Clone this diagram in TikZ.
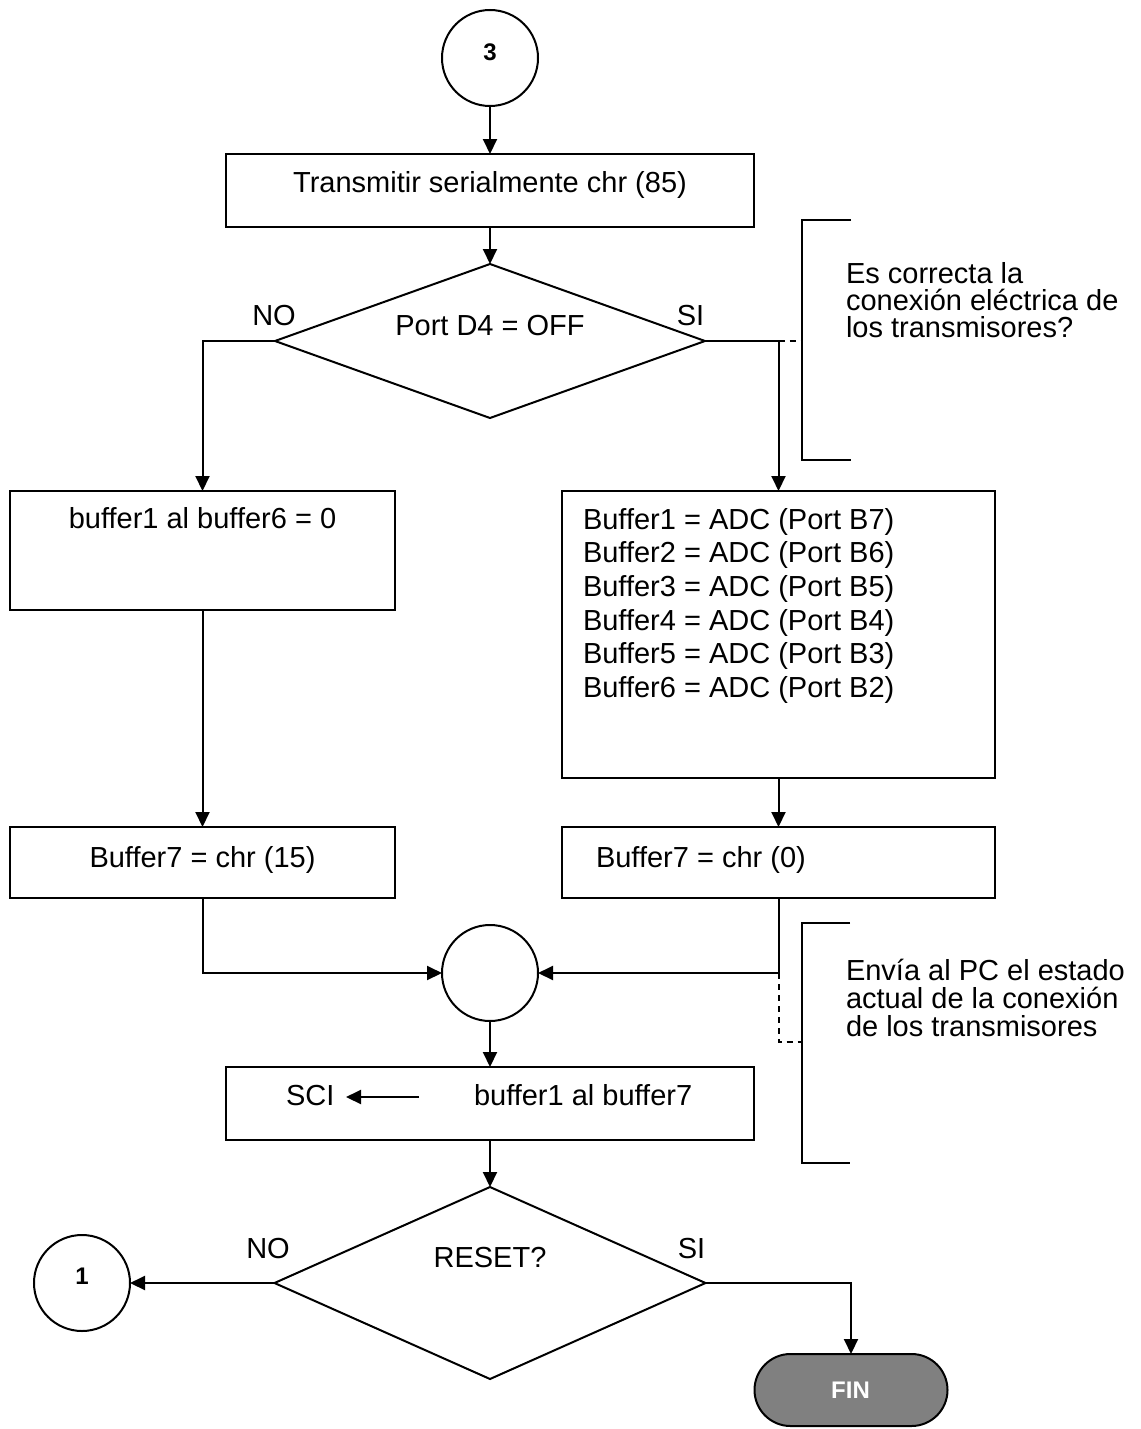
\documentclass[tikz,border=0pt]{standalone}
\usepackage{fontspec}
\setmainfont{Liberation Sans}
\usetikzlibrary{arrows.meta,shapes.geometric,shapes.misc}
\definecolor{fingray}{RGB}{128,128,128}
\begin{document}
\begin{tikzpicture}[x=1pt,y=-1pt,
  line width=2pt,
  every node/.style={inner sep=0pt,outer sep=0pt},
  txt/.style={font=\fontsize{29}{34}\selectfont},
  numtxt/.style={font=\fontsize{24}{28}\selectfont\bfseries},
  procbox/.style={draw,rectangle,line width=2pt},
  conn/.style={draw,circle,minimum size=96pt,line width=2pt},
  decision/.style={draw,diamond,line width=2pt},
  arr/.style={-{Triangle[length=15pt,width=14pt]}},
  dashline/.style={dash pattern=on 6pt off 5pt},
]
% page
\path[fill=white] (0,0) rectangle (1140,1429);
\useasboundingbox (0,0) rectangle (1140,1429);

% shapes
\node[conn] (c3) at (490,58) {};
\node[procbox,minimum width=528pt,minimum height=73pt] (box1) at (490,190.5) {};
\node[decision,minimum width=430pt,minimum height=154pt] (d1) at (490,341) {};
\node[procbox,minimum width=385pt,minimum height=119pt] (boxA) at (202.5,550.5) {};
\node[procbox,minimum width=433pt,minimum height=287pt] (boxB) at (778.5,634.5) {};
\node[procbox,minimum width=385pt,minimum height=71pt] (b7L) at (202.5,862.5) {};
\node[procbox,minimum width=433pt,minimum height=71pt] (b7R) at (778.5,862.5) {};
\node[conn] (merge) at (490,973) {};
\node[procbox,minimum width=528pt,minimum height=73pt] (sci) at (490,1103.5) {};
\node[decision,minimum width=431pt,minimum height=192pt] (d2) at (490,1283) {};
\node[conn] (c1) at (82,1283) {};
\node[draw,rounded rectangle,fill=fingray,minimum width=193pt,minimum height=72pt,line width=2pt] (fin) at (851,1390) {};

% texts
\node[numtxt,anchor=base] (t3) at (490,60) {3};
\node[txt,anchor=base] (t1) at (490,192) {Transmitir serialmente chr (85)};
\node[txt,anchor=base] (td1) at (490,335.5) {Port D4 = OFF};
\node[txt,anchor=base] (no1) at (274,325) {NO};
\node[txt,anchor=base] (si1) at (690.5,325) {SI};
\node[txt,anchor=base] (tA) at (202.5,528) {buffer1 al buffer6 = 0};
\foreach \t [count=\i] in {Buffer1 = ADC (Port B7),Buffer2 = ADC (Port B6),Buffer3 = ADC (Port B5),Buffer4 = ADC (Port B4),Buffer5 = ADC (Port B3),Buffer6 = ADC (Port B2)}
  \node[txt,anchor=base west] (tb\i) at (583,{529+33.7*(\i-1)}) {\t};
\node[txt,anchor=base] (t7L) at (202.5,867) {Buffer7 = chr (15)};
\node[txt,anchor=base west] (t7R) at (596,867) {Buffer7 = chr (0)};
\node[txt,anchor=base west] (tsci) at (286,1105) {SCI};
\node[txt,anchor=base west] (tbuf) at (474,1105) {buffer1 al buffer7};
\coordinate (sciA) at (419,1097);
\coordinate (sciB) at (346,1097);
\draw[arr] (sciA) -- (sciB);
\node[txt,anchor=base] (td2) at (490,1267) {RESET?};
\node[txt,anchor=base] (no2) at (268,1258) {NO};
\node[txt,anchor=base] (si2) at (691.5,1258) {SI};
\node[numtxt,anchor=base] (t1c) at (82,1284) {1};
\node[numtxt,anchor=base,text=white] (tfin) at (850.5,1398) {FIN};

% notes
\foreach \t [count=\i] in {Es correcta la,conexión eléctrica de,los transmisores?}
  \node[txt,anchor=base west] (na\i) at (846,{283+27.4*(\i-1)}) {\t};
\foreach \t [count=\i] in {Envía al PC el estado,actual de la conexión,de los transmisores}
  \node[txt,anchor=base west] (nb\i) at (846,{980+28.4*(\i-1)}) {\t};

% brackets
\coordinate (ba1) at (851,220);
\coordinate (ba2) at (802,220);
\coordinate (ba3) at (802,460);
\coordinate (ba4) at (851,460);
\draw (ba1) -- (ba2) -- (ba3) -- (ba4);
\coordinate (bb1) at (850,923);
\coordinate (bb2) at (802,923);
\coordinate (bb3) at (802,1163);
\coordinate (bb4) at (850,1163);
\draw (bb1) -- (bb2) -- (bb3) -- (bb4);

% flow connectors
\draw[arr] (c3) -- (box1);
\draw[arr] (box1) -- (d1);
\draw[arr] (d1.west) -| (boxA.north);
\draw[arr] (d1.east) -| (boxB.north);
\draw[arr] (boxA) -- (b7L);
\draw[arr] (boxB) -- (b7R);
\draw[arr] (b7L.south) |- (merge.west);
\draw[arr] (b7R.south) |- (merge.east);
\draw[arr] (merge) -- (sci);
\draw[arr] (sci) -- (d2);
\draw[arr] (d2.west) -- (c1.east);
\draw[arr] (d2.east) -| (fin.north);

% dashed leaders to the notes
\coordinate (j1) at (boxB.north |- d1.east);
\coordinate (k1) at (ba2 |- d1.east);
\draw[dashline] (j1) -- (k1);
\coordinate (j2) at (b7R.south |- merge.east);
\coordinate (j3) at (778.5,1042);
\coordinate (k2) at (802,1042);
\draw[dashline] (j2) -- (j3) -- (k2);
\end{tikzpicture}
\end{document}
